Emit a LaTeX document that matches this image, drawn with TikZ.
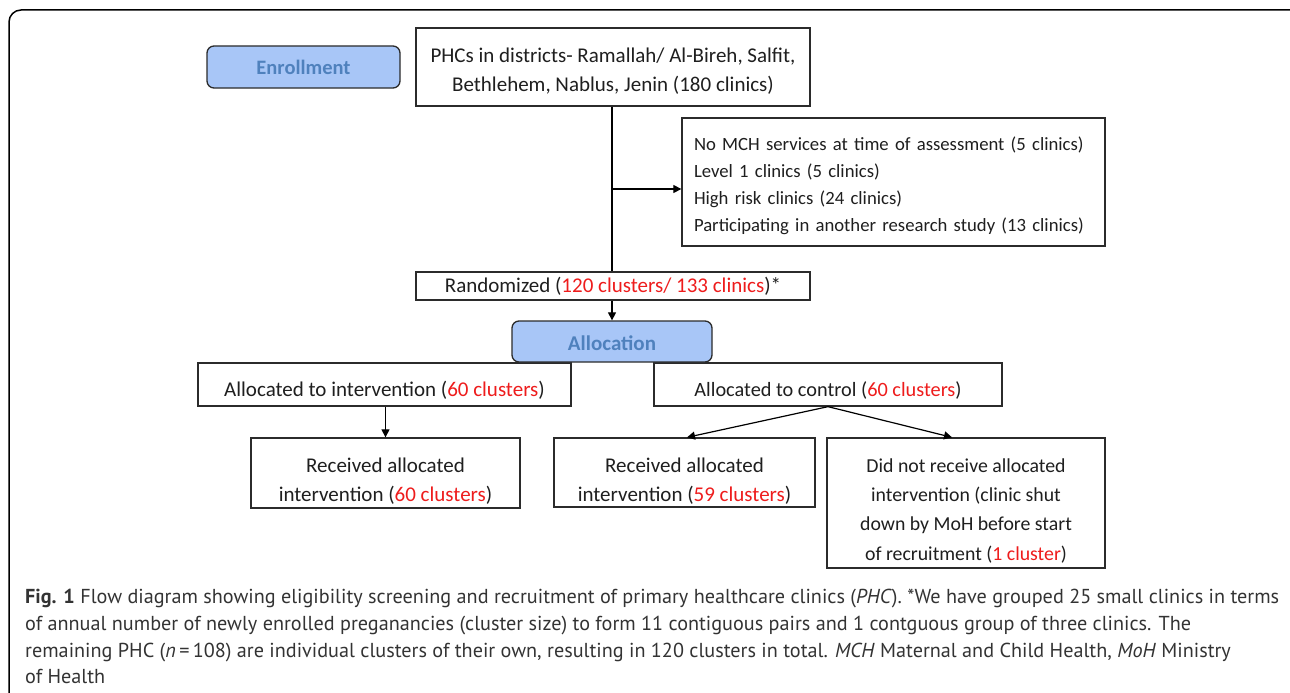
\documentclass[tikz,border=0pt]{standalone}
\usepackage{fontspec}
\setmainfont{Carlito}
\newfontfamily\capfont{PT Sans}
\usetikzlibrary{arrows.meta,calc}
\definecolor{boxblue}{HTML}{A8C6F7}
\definecolor{phasetext}{HTML}{4F81BD}
\definecolor{redn}{HTML}{EE1C1C}
\definecolor{edge}{HTML}{2B2B2B}
\definecolor{captxt}{HTML}{333333}
\newcommand{\rd}[1]{\textcolor{redn}{#1}}
\newcommand{\lift}[1]{\rule{0pt}{#1}}
\begin{document}
\begin{tikzpicture}[x=1pt,y=-1pt,
  box/.style={draw=edge, line width=1.3pt, fill=white, inner sep=0pt, align=center,
    text=black!88, font=\fontsize{21}{29}\selectfont},
  phase/.style={draw=edge, line width=1.3pt, fill=boxblue, rounded corners=7pt, inner sep=0pt,
    font=\fontsize{21}{23}\selectfont\bfseries, text=phasetext},
  conn/.style={draw=black, line width=1.2pt},
  arr/.style={conn, -{Triangle[length=8pt,width=8pt]}},
  capline/.style={anchor=base west, inner sep=0pt, text=captxt, font=\capfont\fontsize{20.2}{26}\selectfont}
]
\useasboundingbox (0,0) rectangle (1290,693);
\begin{scope}
  \clip (0,0) rectangle (1290,693);
  \draw[line width=1.5pt, rounded corners=12pt] (9,10) rectangle (1312,715);
\end{scope}

\node[phase, font=\fontsize{20.5}{23}\selectfont\bfseries, minimum width=193pt, minimum height=42pt] (enr) at (303.5,67) {Enrollment};
\node[box, minimum width=394pt, minimum height=78pt] (phc) at (613,67)
  {\lift{22pt}PHCs in districts- Ramallah/ Al-Bireh, Salfit,\\Bethlehem, Nablus, Jenin (180 clinics)};
\node[box, font=\fontsize{18.7}{27}\selectfont, align=left, text width=399pt, inner xsep=12pt,
  minimum height=128pt] (excl) at (893.5,182)
  {\lift{22pt}No MCH services at time of assessment (5 clinics)\\Level 1 clinics (5 clinics)\\High risk clinics (24 clinics)\\Participating in another research study (13 clinics)};
\node[box, minimum width=394pt, minimum height=28pt] (rand) at (613,286)
  {Randomized (\rd{120 clusters/ 133 clinics})*};
\node[box, minimum width=373pt, minimum height=43pt] (aint) at (384.5,384.5)
  {\lift{27pt}Allocated to intervention (\rd{60 clusters})};
\node[box, font=\fontsize{20.3}{29}\selectfont, minimum width=348pt, minimum height=43pt] (actl) at (828,384.5)
  {\lift{27pt}Allocated to control (\rd{60 clusters})};
\node[phase, minimum width=200pt, minimum height=41pt] (alloc) at (612,341.5) {\lift{19pt}Allocation};
\node[box, minimum width=269pt, minimum height=70pt] (rint) at (385.5,473)
  {\lift{31pt}Received allocated\\intervention (\rd{60 clusters})};
\node[box, minimum width=261pt, minimum height=69pt] (r59) at (684.5,472.5)
  {\lift{31pt}Received allocated\\intervention (\rd{59 clusters})};
\node[box, font=\fontsize{19.8}{29.3}\selectfont, minimum width=278pt, minimum height=130pt] (dnr) at (966,503)
  {\lift{29pt}Did not receive allocated\\intervention (clinic shut\\down by MoH before start\\of recruitment (\rd{1 cluster})};

\coordinate (br) at ($(phc.south)!0.5!(rand.north)$);
\draw[conn] (phc.south -| 612,0) -- (rand.north -| 612,0);
\draw[arr] (br -| 612,0) -- (br -| excl.west);
\draw[arr] (rand.south -| alloc.north) -- (alloc.north);
\draw[arr] (aint.south -| rint.north) -- (rint.north);
\draw[arr] (actl.south) -- ($(r59.north)+(2.5,0)$);
\draw[arr] (actl.south) -- ($(dnr.north)+(-14,0)$);

\node[capline] (c1) at (25,603) {\textbf{Fig. 1} Flow diagram showing eligibility screening and recruitment of primary healthcare clinics (\textit{PHC}). *We have grouped 25 small clinics in terms};
\node[capline] (c2) at (25,630) {of annual number of newly enrolled preganancies (cluster size) to form 11 contiguous pairs and 1 contguous group of three clinics. The};
\node[capline] (c3) at (25,657) {remaining PHC (\textit{n}\,=\,108) are individual clusters of their own, resulting in 120 clusters in total. \textit{MCH} Maternal and Child Health, \textit{MoH} Ministry};
\node[capline] (c4) at (25,683) {of Health};
\end{tikzpicture}
\end{document}
